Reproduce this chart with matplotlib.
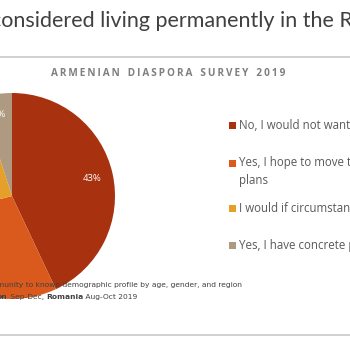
import matplotlib
matplotlib.use("Agg")
import matplotlib.pyplot as plt
from matplotlib.patches import Rectangle
from matplotlib.lines import Line2D

# ---- data ----
categories = [
    "No, I would not want to live there",
    "Yes, I hope to move there but I have no concrete\nplans",
    "I would if circumstances allowed",
    "Yes, I have concrete plans",
]
values = [43, 28, 24, 5]
colors = ["#A8320F", "#D95A1C", "#E6A02A", "#AE9A80"]
title = "Have you considered living permanently in the Republic of Armenia?"
subtitle = "ARMENIAN DIASPORA SURVEY 2019"

W = H = 350
fig = plt.figure(figsize=(3.5, 3.5), dpi=100)
fig.patch.set_facecolor("white")

def fx(px):
    return px / W

def fy(py):
    return 1 - py / H

# title (cropped on left)
TFS = 15.5
tt = fig.text(0, fy(21), title, fontsize=TFS, color="#404040",
              family="Lato", va="center", ha="left")
fig.canvas.draw()
renderer = fig.canvas.get_renderer()
probe = fig.text(0, 0, "Have you c", fontsize=TFS, family="Lato")
pw = probe.get_window_extent(renderer).width
probe.remove()
tt.set_x(fx(-pw + 1))

# separator lines
fig.add_artist(Line2D([0, 1], [fy(57), fy(57)], color="#C8C8C8", lw=1.2))
fig.add_artist(Line2D([0, 1], [fy(335), fy(335)], color="#C8C8C8", lw=1.2))

# subtitle with letter spacing
spaced = "\u2009\u2009\u2009\u2009".join("\u2009".join(w) for w in subtitle.split(" "))
fig.text(fx(168), fy(73), spaced, fontsize=7.2, color="#7F7F7F",
         family="Open Sans", weight="bold", ha="center", va="center")

# pie
cx, cy, r = 12, 196, 103
ax = fig.add_axes([fx(cx - r), fy(cy + r), 2 * r / W, 2 * r / H])
wedges, texts, autotexts = ax.pie(
    values, colors=colors, startangle=90, counterclock=False,
    autopct=lambda p: f"{p:.0f}%", pctdistance=0.8,
    textprops=dict(color="white", fontsize=6.8, family="Open Sans"),
    wedgeprops=dict(linewidth=0))
ax.set_xlim(-1, 1)
ax.set_ylim(-1, 1)
ax.set_aspect("equal")
ax.axis("off")

# legend (manual layout)
leg_y = [125, 163, 208, 245]
for lab, col, y in zip(categories, colors, leg_y):
    fig.add_artist(Rectangle((fx(229), fy(y + 3.5)), 7 / W, 7 / H,
                             facecolor=col, edgecolor="none",
                             transform=fig.transFigure))
    two = "\n" in lab
    fig.text(fx(239), fy(y - 6.5) if two else fy(y), lab, fontsize=8.3,
             color="#595959", family="Open Sans", ha="left",
             va="top" if two else "center", linespacing=1.45)

# footnote
fs = 5.4
fig.text(fx(-3), fy(285), "munity to known demographic profile by age, gender, and region",
         fontsize=fs, color="#404040", family="DejaVu Sans", ha="left", va="center")
t1 = fig.text(fx(-3), fy(297), "on", fontsize=fs, color="#404040",
              family="DejaVu Sans", weight="bold", ha="left", va="center")
parts = [(" Sep-Dec, ", "normal"), ("Romania", "bold"), (" Aug-Oct 2019", "normal")]
prev = t1
fig.canvas.draw()
for txt, wt in parts:
    bb = prev.get_window_extent(renderer).transformed(fig.transFigure.inverted())
    t = fig.text(bb.x1, fy(297), txt, fontsize=fs, color="#404040",
                 family="DejaVu Sans", weight=wt, ha="left", va="center")
    fig.canvas.draw()
    prev = t

fig.savefig("out.png", dpi=100, facecolor="white")
